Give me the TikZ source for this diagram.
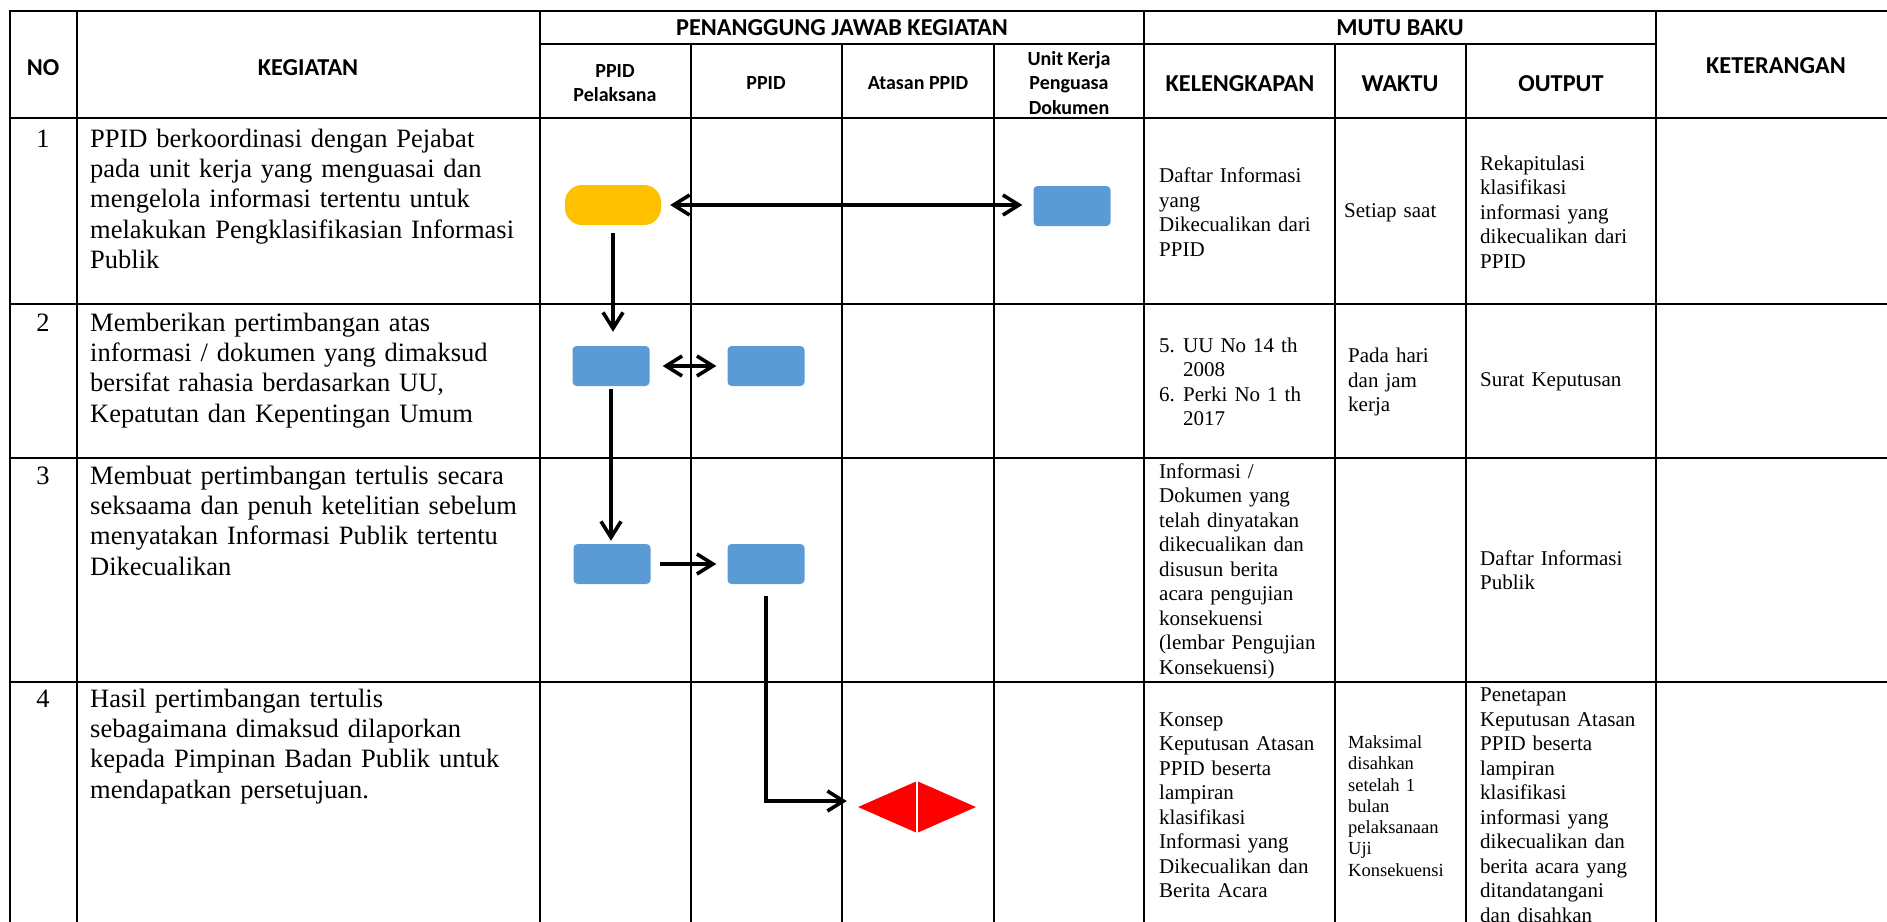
\documentclass[tikz,border=0pt]{standalone}
\usepackage{fontspec}
\setmainfont{Liberation Serif}
\newfontfamily\calibri{Carlito}
\usetikzlibrary{arrows.meta,shapes.geometric}

\definecolor{biru}{HTML}{5B9BD5}
\definecolor{kuning}{HTML}{FFC000}
\definecolor{merah}{HTML}{FF0000}

\tikzset{
  garis/.style={line width=2.2pt, line cap=rect},
  judul/.style={font=\calibri\bfseries\fontsize{24.3}{29}\selectfont, align=center, inner sep=0pt},
  subjudul/.style={font=\calibri\bfseries\fontsize{20}{24.5}\selectfont, align=center, inner sep=0pt},
  uraian/.style={font=\fontsize{26.5}{30.4}\selectfont, text width=445pt, align=left, inner sep=0pt, anchor=base west},
  nomor/.style={font=\fontsize{26.5}{30.4}\selectfont, inner sep=0pt, anchor=base},
  isi/.style={font=\fontsize{21}{24.5}\selectfont, text width=178pt, align=left, inner sep=0pt, anchor=west},
  isikecil/.style={font=\fontsize{18.5}{21.3}\selectfont, text width=115pt, align=left, inner sep=0pt, anchor=west},
  proses/.style={fill=biru, rounded corners=4pt, minimum width=77pt, minimum height=40pt, inner sep=0pt},
  mulai/.style={fill=kuning, rounded corners=17pt, minimum width=96pt, minimum height=40pt, inner sep=0pt},
  alur/.style={line width=3.6pt},
}

\begin{document}
\begin{tikzpicture}[x=1pt, y=-1pt, >={Straight Barb[length=16pt,width=20pt]}]
    \useasboundingbox (0,0) rectangle (1887,921);
    % garis tabel
    \draw[garis] (10,11) -- (1887,11);
    \draw[garis] (540,44) -- (1656,44);
    \foreach \y in {118,304,458,682}
        \draw[garis] (10,\y) -- (1887,\y);
    \foreach \x in {10,77,540,1144,1656}
        \draw[garis] (\x,11) -- (\x,921);
    \foreach \x in {691,842,994,1335,1466}
        \draw[garis] (\x,44) -- (\x,921);

    % kepala tabel
    \node[judul] (hNo) at (43,68) {NO};
    \node[judul] (hKeg) at (308,68) {KEGIATAN};
    \node[judul] (hPj) at (842,28) {PENANGGUNG JAWAB KEGIATAN};
    \node[judul] (hMutu) at (1400,28) {MUTU BAKU};
    \node[judul] (hKet) at (1776,66) {KETERANGAN};
    \node[subjudul] (hPel) at (615,83) {PPID\\Pelaksana};
    \node[subjudul] (hPpid) at (766,83) {PPID};
    \node[subjudul] (hAtasan) at (918,83) {Atasan PPID};
    \node[subjudul] (hUnit) at (1069,83) {Unit Kerja\\Penguasa\\Dokumen};
    \node[judul] (hLengkap) at (1240,84) {KELENGKAPAN};
    \node[judul] (hWaktu) at (1400,84) {WAKTU};
    \node[judul] (hOutput) at (1561,84) {OUTPUT};

    % nomor dan kegiatan
    \node[nomor] (no1) at (43,147) {1};
    \node[nomor] (no2) at (43,331) {2};
    \node[nomor] (no3) at (43,484) {3};
    \node[nomor] (no4) at (43,707) {4};
    \node[uraian] (keg1) at (90,147) {PPID berkoordinasi dengan Pejabat\\pada unit kerja yang menguasai dan\\mengelola informasi tertentu untuk\\melakukan Pengklasifikasian Informasi\\Publik};
    \node[uraian] (keg2) at (90,331) {Memberikan pertimbangan atas\\informasi / dokumen yang dimaksud\\bersifat rahasia berdasarkan UU,\\Kepatutan dan Kepentingan Umum};
    \node[uraian] (keg3) at (90,484) {Membuat pertimbangan tertulis secara\\seksaama dan penuh ketelitian sebelum\\menyatakan Informasi Publik tertentu\\Dikecualikan};
    \node[uraian] (keg4) at (90,707) {Hasil pertimbangan tertulis\\sebagaimana dimaksud dilaporkan\\kepada Pimpinan Badan Publik untuk\\mendapatkan persetujuan.};

    % kelengkapan
    \node[isi] (lengkap1) at (1159,212) {Daftar Informasi\\yang\\Dikecualikan dari\\PPID};
    \node[isi] (lengkap2) at (1159,382) {\makebox[24pt][l]{5.}UU No 14 th\\\hspace*{24pt}2008\\\makebox[24pt][l]{6.}Perki No 1 th\\\hspace*{24pt}2017};
    \node[isi] (lengkap3) at (1159,571) {Informasi /\\Dokumen yang\\telah dinyatakan\\dikecualikan dan\\disusun berita\\acara pengujian\\konsekuensi\\(lembar Pengujian\\Konsekuensi)};
    \node[isi] (lengkap4) at (1159,805) {Konsep\\Keputusan Atasan\\PPID beserta\\lampiran\\klasifikasi\\Informasi yang\\Dikecualikan dan\\Berita Acara};

    % waktu
    \node[isi, text width=115pt] (waktu1) at (1344,213) {Setiap saat};
    \node[isi, text width=115pt] (waktu2) at (1348,382) {Pada hari\\dan jam\\kerja};
    \node[isikecil] (waktu4) at (1348,806) {Maksimal\\disahkan\\setelah 1\\bulan\\pelaksanaan\\Uji\\Konsekuensi};

    % output
    \node[isi, text width=170pt] (out1) at (1480,212) {Rekapitulasi\\klasifikasi\\informasi yang\\dikecualikan dari\\PPID};
    \node[isi, text width=170pt] (out2) at (1480,382) {Surat Keputusan};
    \node[isi, text width=170pt] (out3) at (1480,570) {Daftar Informasi\\Publik};
    \node[isi, text width=170pt] (out4) at (1480,805) {Penetapan\\Keputusan Atasan\\PPID beserta\\lampiran\\klasifikasi\\informasi yang\\dikecualikan dan\\berita acara yang\\ditandatangani\\dan disahkan};

    % simbol alur
    \node[mulai] (awal) at (613,205) {};
    \node[proses] (unit) at (1072,206) {};
    \node[proses] (pel2) at (611,366) {};
    \node[proses] (ppid2) at (766,366) {};
    \node[proses] (pel3) at (612,564) {};
    \node[proses] (ppid3) at (766,564) {};
    \node[diamond, fill=merah, minimum width=118pt, minimum height=52pt, inner sep=0pt] (atasan) at (917,807) {};
    \draw[white, line width=2.5pt] (atasan.north) -- (atasan.south);

    % panah
    \draw[alur, <->, shorten <=9pt, shorten >=11pt] (awal.east) -- (awal.east -| unit.west);
    \draw[alur, ->, shorten <=8pt, shorten >=14pt] (awal.south) -- (awal.south |- pel2.north);
    \draw[alur, <->, shorten <=13pt, shorten >=11pt] (pel2.east) -- (ppid2.west);
    \draw[alur, ->, shorten <=3pt, shorten >=3pt] (pel2.south) -- (pel2.south |- pel3.north);
    \draw[alur, ->, shorten <=9pt, shorten >=11pt] (pel3.east) -- (ppid3.west);
    \draw[alur, ->, shorten <=12pt, shorten >=11pt] (ppid3.south) |- ([yshift=6pt]atasan.west);
\end{tikzpicture}
\end{document}
